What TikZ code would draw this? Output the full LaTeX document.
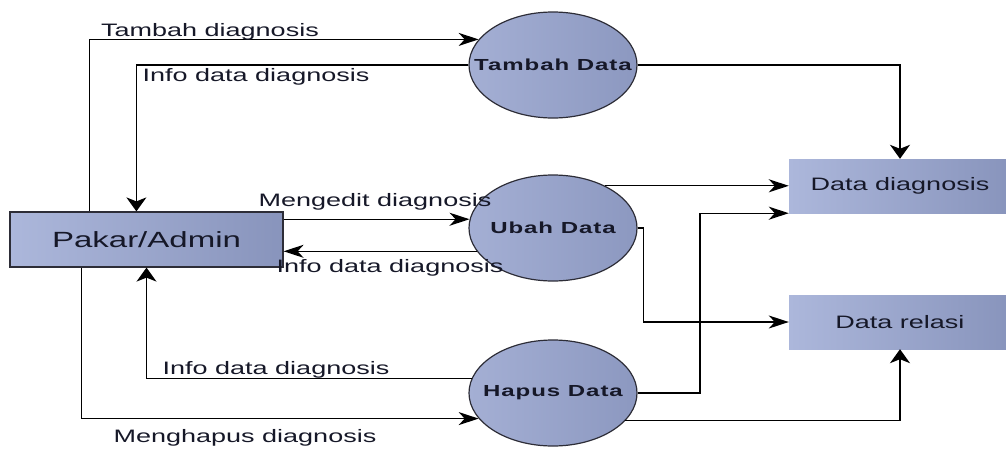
\documentclass[tikz,border=0pt]{standalone}
\usepackage{fontspec}
\setmainfont{Liberation Sans}[FakeStretch=1.5]
\newfontfamily\procfont{Liberation Sans}[FakeStretch=1.5,LetterSpace=6]
\usetikzlibrary{arrows.meta,shapes.geometric}
\definecolor{boxlight}{RGB}{172,183,219}
\definecolor{boxdark}{RGB}{136,148,188}
\definecolor{ovallight}{RGB}{164,175,212}
\definecolor{ovaldark}{RGB}{140,152,192}
\definecolor{inkline}{RGB}{45,45,55}
\definecolor{textink}{RGB}{22,24,40}
\newcommand{\proclabel}[1]{\makebox[0pt]{#1}}

\begin{document}
\begin{tikzpicture}[x=1pt,y=-1pt,
    entity/.style={rectangle,draw=inkline,line width=1.2pt,left color=boxlight,right color=boxdark,
      minimum width=273pt,minimum height=55pt,inner sep=0pt,text=textink,font=\fontsize{22}{24}\selectfont},
    store/.style={rectangle,left color=boxlight,right color=boxdark,
      minimum width=222pt,minimum height=54pt,inner sep=0pt,text=textink,font=\fontsize{18}{20}\selectfont},
    process/.style={ellipse,draw=inkline,line width=1.2pt,left color=ovallight,right color=ovaldark,
      minimum width=168pt,minimum height=106pt,inner sep=0pt,text=textink,font=\procfont\bfseries\fontsize{16}{18}\selectfont},
    flowtext/.style={inner sep=0pt,text=textink,font=\fontsize{18}{20}\selectfont},
    flow/.style={draw=black,line width=1.4pt,-{Stealth[length=20pt,width=13pt,inset=6pt]}},
    flowv/.style={draw=black,line width=1.4pt,-{Stealth[length=14pt,width=20pt,inset=4pt]}}]
  \useasboundingbox (0,0) rectangle (1006,450);
  % external entity
  \node[entity] at (146.5,239.5) (pakar) {Pakar/Admin};
  % processes
  \node[process] at (553,65) (tambah) {\proclabel{Tambah Data}};
  \node[process] at (553,228) (ubah) {\proclabel{Ubah Data}};
  \node[process] at (553,393) (hapus) {\proclabel{Hapus Data}};
  % data stores
  \node[store] at (900,186) (diag) {Data diagnosis};
  \node[store] at (900,322) (relasi) {Data relasi};
  % bend point
  \coordinate (hbend) at (700,300);
  % tambah data
  \draw[flow] ([xshift=80pt]pakar.north west) |- (tambah.161);
  \draw[flowv] (tambah.west) -| ([xshift=127pt]pakar.north west);
  \draw[flowv] (tambah.east) -| (diag.north);
  \node[flowtext] at (210,32) (lblTambah) {Tambah diagnosis};
  \node[flowtext] at (256,77) (lblInfoA) {Info data diagnosis};
  % ubah data
  \draw[flow] (pakar.east |- ubah.174) -- (ubah.174);
  \draw[flow] (ubah.197) -- (ubah.197 -| pakar.east);
  \draw[flow] (ubah.39) -- (ubah.39 -| diag.west);
  \draw[flow] (ubah.east) -- ++(6,0) |- (relasi.west);
  \node[flowtext] at (375,202) (lblUbah) {Mengedit diagnosis};
  \node[flowtext] at (390,268) (lblInfoB) {Info data diagnosis};
  % hapus data
  \draw[flowv] (hapus.170) -| (pakar.south);
  \draw[flow] ([xshift=72pt]pakar.south west) |- (hapus.199);
  \draw[flow] (hapus.east) -| (hbend) |- (diag.south west);
  \draw[flowv] (hapus.-21) -| (relasi.south);
  \node[flowtext] at (276,370) (lblInfoC) {Info data diagnosis};
  \node[flowtext] at (245,438) (lblHapus) {Menghapus diagnosis};
\end{tikzpicture}
\end{document}
